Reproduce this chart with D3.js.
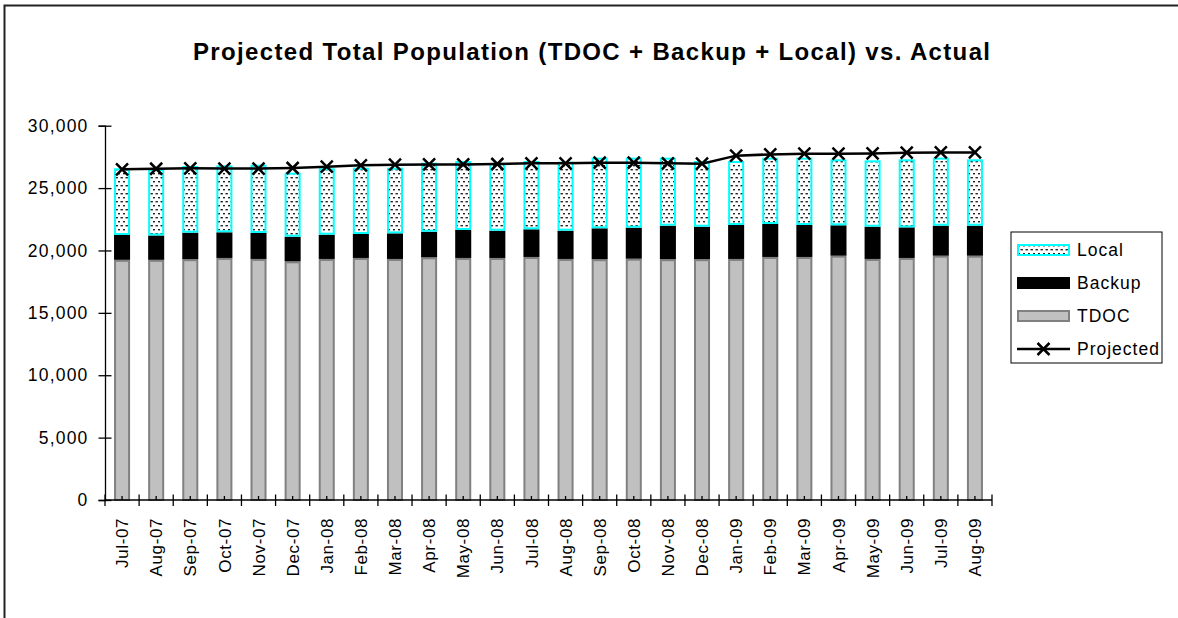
<!DOCTYPE html>
<html><head><meta charset="utf-8">
<script src="https://cdn.jsdelivr.net/npm/d3@7"></script>
<style>
html,body{margin:0;padding:0;background:#fff;}
svg{display:block;font-family:"Liberation Sans",Arial,sans-serif;}
</style></head>
<body><svg id="chart" width="1178" height="618"></svg>
<script>
const months = ["Jul-07","Aug-07","Sep-07","Oct-07","Nov-07","Dec-07","Jan-08","Feb-08","Mar-08","Apr-08","May-08","Jun-08","Jul-08","Aug-08","Sep-08","Oct-08","Nov-08","Dec-08","Jan-09","Feb-09","Mar-09","Apr-09","May-09","Jun-09","Jul-09","Aug-09"];
const tdoc = [19250,19250,19300,19400,19320,19130,19320,19400,19320,19450,19400,19400,19480,19320,19300,19340,19300,19300,19320,19480,19480,19580,19320,19400,19580,19580];
const backup = [1990,1950,2125,2055,2080,1975,1945,1920,2050,2055,2240,2185,2215,2265,2475,2485,2685,2605,2720,2640,2560,2435,2585,2450,2405,2405];
const local = [5345,5320,5345,5370,5475,5130,5320,5315,5265,5530,5530,5400,5475,5530,5665,5615,5455,5265,5130,5320,5400,5290,5320,5455,5455,5320];
const projected = [26500,26550,26585,26560,26560,26610,26715,26825,26875,26900,26900,26930,26985,26985,27035,27035,26985,26960,27600,27700,27755,27755,27780,27840,27860,27860];
const yTicks = [0,5000,10000,15000,20000,25000,30000];
const titleText = "Projected Total Population (TDOC + Backup + Local) vs. Actual";
const legendItems = ["Local","Backup","TDOC","Projected"];

const svg = d3.select("#chart");
const defs = svg.append("defs");
const pat = defs.append("pattern").attr("id","dots").attr("patternUnits","userSpaceOnUse")
  .attr("width",5).attr("height",8);
pat.append("rect").attr("width",5).attr("height",8).attr("fill","#fff");
pat.append("rect").attr("x",0.5).attr("y",1).attr("width",2.4).attr("height",1.4).attr("fill","#222");
pat.append("rect").attr("x",3).attr("y",5).attr("width",2.4).attr("height",1.4).attr("fill","#222");

// outer border
svg.append("rect").attr("x",4.5).attr("y",5.5).attr("width",1200).attr("height",700)
  .attr("fill","none").attr("stroke","#222").attr("stroke-width",2);

// title
svg.append("text").attr("x",193).attr("y",59.5).attr("text-anchor","start")
  .attr("font-size",24).attr("font-weight","bold")
  .attr("textLength",797).attr("lengthAdjust","spacing").text(titleText);

const x = d3.scaleBand().domain(months).range([105,992]).paddingInner(0.53).paddingOuter(0.265);
const y = d3.scaleLinear().domain([0,30000]).range([500,125.7]);
const bw = x.bandwidth();

const data = months.map((m,i)=>({m, t:tdoc[i], b:backup[i], l:local[i], p:projected[i]}));

const g = svg.append("g");
// TDOC
g.selectAll(".tdoc").data(data).join("rect")
  .attr("x",d=>x(d.m)+1).attr("width",bw-2)
  .attr("y",d=>y(d.t)+1).attr("height",d=>y(0)-y(d.t)-1)
  .attr("fill","#c0c0c0").attr("stroke","#808080").attr("stroke-width",2);
// Backup
g.selectAll(".backup").data(data).join("rect")
  .attr("x",d=>x(d.m)).attr("width",bw)
  .attr("y",d=>y(d.t+d.b)).attr("height",d=>y(d.t)-y(d.t+d.b))
  .attr("fill","#000");
// Local
g.selectAll(".local").data(data).join("rect")
  .attr("x",d=>x(d.m)+1).attr("width",bw-2)
  .attr("y",d=>y(d.t+d.b+d.l)+1).attr("height",d=>y(d.t+d.b)-y(d.t+d.b+d.l)-2)
  .attr("fill","url(#dots)").attr("stroke","#00ffff").attr("stroke-width",2);

// Y axis
const yAxis = d3.axisLeft(y).tickValues(yTicks).tickFormat(d3.format(",")).tickSize(6.5).tickPadding(10);
const ya = svg.append("g").attr("transform","translate(105,0)").call(yAxis);
ya.select(".domain").attr("stroke","#000").attr("stroke-width",1.3);
ya.selectAll(".tick line").attr("x2",-6.5).attr("x1",6.5).attr("stroke","#000").attr("stroke-width",1.3);
ya.selectAll(".tick text").attr("font-size",17.5).attr("letter-spacing","1.2px")
  .attr("font-family","Liberation Sans, Arial, sans-serif").attr("fill","#000");

// X axis
const step = x.step();
const xBoundaries = d3.range(months.length+1).map(i=>105+i*step);
const xa = svg.append("g");
xa.append("line").attr("x1",105).attr("x2",992).attr("y1",y(0)).attr("y2",y(0)).attr("stroke","#000").attr("stroke-width",1.3);
xa.selectAll(".maj").data(xBoundaries).join("line")
  .attr("x1",d=>d).attr("x2",d=>d).attr("y1",y(0)-5.5).attr("y2",y(0)+6)
  .attr("stroke","#000").attr("stroke-width",1.3);
xa.selectAll(".min").data(months).join("line")
  .attr("x1",d=>x(d)+bw/2).attr("x2",d=>x(d)+bw/2).attr("y1",y(0)-4).attr("y2",y(0))
  .attr("stroke","#000").attr("stroke-width",1.3);
xa.selectAll(".lbl").data(months).join("text")
  .attr("transform",d=>`translate(${x(d)+bw/2},518) rotate(-90)`)
  .attr("text-anchor","end").attr("dy","0.36em").attr("font-size",17)
  .attr("letter-spacing","0.6px").text(d=>d);

// Projected line
const line = d3.line().x(d=>x(d.m)+bw/2).y(d=>y(d.p));
svg.append("path").datum(data).attr("d",line).attr("fill","none").attr("stroke","#000").attr("stroke-width",2.5);
const ms = 6;
const marks = svg.append("g");
data.forEach(d=>{
  const cx = x(d.m)+bw/2, cy = y(d.p);
  marks.append("path").attr("d",`M${cx-ms},${cy-ms}L${cx+ms},${cy+ms}M${cx-ms},${cy+ms}L${cx+ms},${cy-ms}`)
    .attr("stroke","#000").attr("stroke-width",2.5).attr("fill","none");
});

// Legend
const lg = svg.append("g");
lg.append("rect").attr("x",1011).attr("y",232).attr("width",151).attr("height",131)
  .attr("fill","#fff").attr("stroke","#000").attr("stroke-width",1);
const ly = [250,283,316,349];
const sx = 1017, sw = 53, sh = 12;
lg.append("rect").attr("x",sx+1).attr("y",ly[0]-sh/2+1).attr("width",sw-2).attr("height",sh-2)
  .attr("fill","url(#dots)").attr("stroke","#00ffff").attr("stroke-width",2);
lg.append("rect").attr("x",sx).attr("y",ly[1]-sh/2).attr("width",sw).attr("height",sh).attr("fill","#000");
lg.append("rect").attr("x",sx+1).attr("y",ly[2]-sh/2+1).attr("width",sw-2).attr("height",sh-2)
  .attr("fill","#c0c0c0").attr("stroke","#808080").attr("stroke-width",2);
lg.append("line").attr("x1",sx).attr("x2",sx+sw).attr("y1",ly[3]).attr("y2",ly[3]).attr("stroke","#000").attr("stroke-width",2.5);
const lcx = sx+sw/2, lcy = ly[3];
lg.append("path").attr("d",`M${lcx-ms},${lcy-ms}L${lcx+ms},${lcy+ms}M${lcx-ms},${lcy+ms}L${lcx+ms},${lcy-ms}`)
  .attr("stroke","#000").attr("stroke-width",2.5);
lg.selectAll(".lt").data(legendItems).join("text")
  .attr("x",1077).attr("y",(d,i)=>ly[i]).attr("dy","0.36em").attr("font-size",17.5)
  .attr("letter-spacing","1px").text(d=>d);
</script></body></html>
